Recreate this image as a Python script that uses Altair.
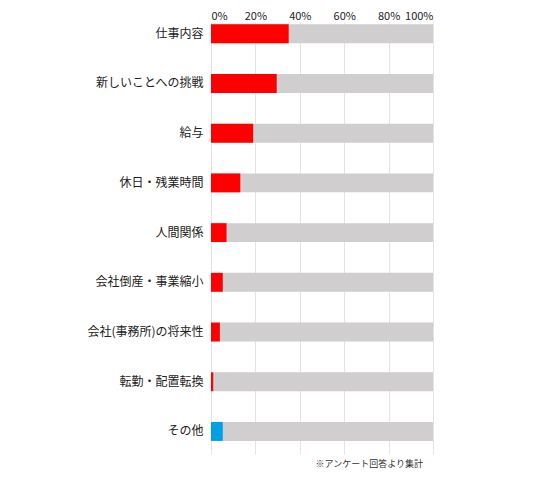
import altair as alt
import pandas as pd

categories = ["仕事内容", "新しいことへの挑戦", "給与", "休日・残業時間", "人間関係",
              "会社倒産・事業縮小", "会社(事務所)の将来性", "転勤・配置転換", "その他"]
values = [35, 29.6, 19, 13.2, 7, 5.3, 4, 1, 5.3]
bar_colors = ["#ff0000"] * 8 + ["#00a0e9"]
x_ticks = [0, 20, 40, 60, 80, 100]
footnote = "※アンケート回答より集計"

df = pd.DataFrame({"cat": categories, "val": values, "color": bar_colors, "full": [100] * len(categories)})

FONT = "Noto Sans CJK JP"

y_enc = alt.Y("cat:N", sort=categories,
              scale=alt.Scale(paddingInner=0.62, paddingOuter=0.155, align=0.15),
              axis=alt.Axis(title=None, domain=False, ticks=False, labelPadding=8,
                            labelFont=FONT, labelFontSize=12, labelColor="#222", grid=False))
x_scale = alt.Scale(domain=[0, 100], nice=False)

bg = alt.Chart(df).mark_bar(color="#d0cecf").encode(
    x=alt.X("full:Q", scale=x_scale,
            axis=alt.Axis(orient="top", values=x_ticks, title=None, domain=False, ticks=False, tickSize=0,
                          labelPadding=1, labelExpr="datum.value + '%'", labelFont=FONT,
                          labelFontSize=11, labelColor="#222", grid=True, gridColor="#e3e3e3",
                          gridWidth=1)),
    y=y_enc,
)
fg = alt.Chart(df).mark_bar().encode(
    x=alt.X("val:Q", scale=x_scale),
    y=alt.Y("cat:N", sort=categories),
    color=alt.Color("color:N", scale=None),
)

chart = alt.layer(bg, fg).properties(
    width=222, height=432,
    autosize=alt.AutoSizeParams(type="none"),
    padding={"left": 203, "top": 14, "right": 40, "bottom": 15},
    title=alt.TitleParams(text=footnote, orient="bottom", anchor="end", fontSize=9,
                          fontWeight="normal", font=FONT, color="#333", offset=6, dx=-10),
).configure_view(stroke=None)

chart.save("out.html", embed_options={"renderer": "svg", "actions": False})
